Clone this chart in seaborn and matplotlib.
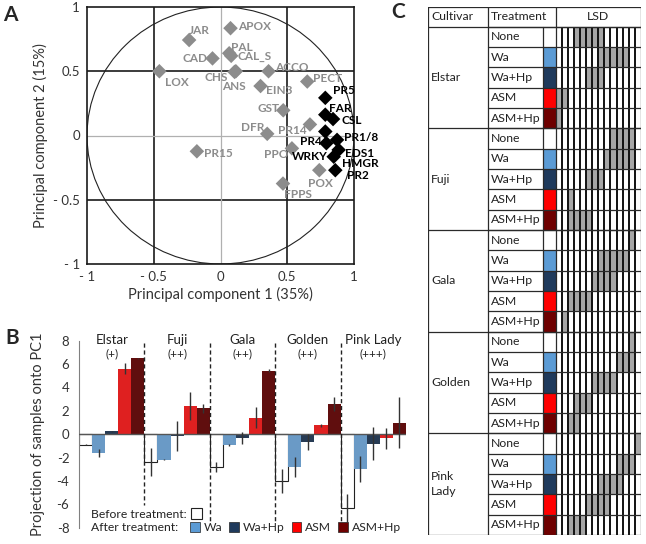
import numpy as np
import pandas as pd
import matplotlib
matplotlib.use('Agg')
import matplotlib.pyplot as plt
from matplotlib.patches import Circle, Patch
from matplotlib.colors import ListedColormap
import seaborn as sns

# ---- A: gene loadings on PC1 / PC2
genes = ['JAR', 'APOX', 'PAL', 'CAL_S', 'CAD', 'LOX', 'CHS', 'ANS', 'ACCO', 'EIN3',
         'PECT', 'GST', 'DFR', 'PR14', 'PR15', 'PPO', 'POX', 'FPPS',
         'PR5', 'FAR', 'CSL', 'HMGR', 'PR1/8', 'PR4', 'EDS1', 'WRKY', 'PR2']
pc1_load = [-0.235, 0.075, 0.065, 0.08, -0.06, -0.458, 0.105, 0.115, 0.36, 0.30,
            0.65, 0.47, 0.35, 0.67, -0.177, 0.535, 0.74, 0.468,
            0.785, 0.785, 0.843, 0.785, 0.873, 0.793, 0.885, 0.848, 0.86]
pc2_load = [0.743, 0.835, 0.64, 0.62, 0.60, 0.50, 0.495, 0.50, 0.50, 0.385,
            0.42, 0.196, 0.013, 0.086, -0.123, -0.10, -0.27, -0.374,
            0.293, 0.162, 0.128, 0.031, -0.034, -0.06, -0.112, -0.165, -0.27]
gene_group = ['other'] * 18 + ['defence'] * 9

# ---- B: projection of samples onto PC1
cultivars = ['Elstar', 'Fuji', 'Gala', 'Golden', 'Pink Lady']
resistance = ['(+)', '(++)', '(++)', '(++)', '(+++)']
treatments = ['None', 'Wa', 'Wa+Hp', 'ASM', 'ASM+Hp']
proj_mean = [[-0.9, -1.6, 0.25, 5.6, 6.5],
             [-2.4, -2.2, -0.15, 2.4, 2.2],
             [-2.8, -0.9, -0.35, 1.4, 5.45],
             [-4.0, -2.8, -0.65, 0.75, 2.55],
             [-6.35, -2.95, -0.8, -0.35, 1.0]]
proj_err = [[0.05, 0.35, 0.05, 0.45, 0.05],
            [1.2, 0.05, 1.25, 1.2, 0.4],
            [0.4, 0.1, 0.5, 0.9, 0.1],
            [1.0, 0.85, 0.7, 0.1, 0.6],
            [1.2, 1.1, 1.45, 0.9, 2.2]]

# ---- C: LSD groups (first and last shaded column per row)
lsd_first = [3, 7, 5, 0, 0,
             9, 8, 5, 2, 2,
             12, 7, 6, 2, 1,
             12, 10, 6, 3, 2,
             13, 10, 7, 5, 2]
lsd_last = [7, 11, 7, 1, 0,
            12, 12, 7, 2, 5,
            12, 11, 9, 5, 1,
            12, 12, 9, 5, 3,
            13, 12, 10, 8, 4]
n_lsd = 14

tcolors = {'None': 'white', 'Wa': '#5b9bd5', 'Wa+Hp': '#1f3a5c',
           'ASM': '#ff0000', 'ASM+Hp': '#6e0000'}

sns.set_style('white')
plt.rcParams['font.family'] = ['Lato', 'DejaVu Sans']
plt.rcParams['axes.unicode_minus'] = False

W, H = 646, 544
fig = plt.figure(figsize=(W / 100, H / 100), dpi=100)


def box(l, t, r, b):
    return [l / W, 1 - b / H, (r - l) / W, (b - t) / H]


# ================= panel A
axA = fig.add_axes(box(87, 7, 354, 264))
genes_df = pd.DataFrame({'gene': genes, 'pc1': pc1_load, 'pc2': pc2_load, 'group': gene_group})
for v in (-0.5, 0.5):
    axA.axvline(v, color='#1a1a1a', lw=1.2, zorder=1)
    axA.axhline(v, color='#1a1a1a', lw=1.2, zorder=1)
axA.axvline(0, color='#b0b0b0', lw=0.9, zorder=1)
axA.axhline(0, color='#b0b0b0', lw=0.9, zorder=1)
axA.add_patch(Circle((0, 0), 1, fill=False, ec='#222222', lw=0.8, zorder=2))
sns.scatterplot(data=genes_df, x='pc1', y='pc2', hue='group',
                palette={'other': '#8c8c8c', 'defence': 'black'},
                marker='D', s=55, linewidth=0, legend=False, ax=axA, zorder=3)

# label offsets in pixels (dx, dy, ha)
lab_off = {'JAR': (10, 10, 'center'), 'APOX': (8, 2, 'left'), 'PAL': (13, 6, 'center'),
           'CAL_S': (6, -1, 'left'), 'CAD': (-5, 0, 'right'), 'LOX': (6, -11, 'left'),
           'CHS': (-7, -6, 'right'), 'ANS': (-2, -15, 'center'), 'ACCO': (7, 4, 'left'),
           'EIN3': (5, -4, 'left'), 'PECT': (6, 3, 'left'), 'GST': (-4, 2, 'right'),
           'DFR': (-3, 6, 'right'), 'PR14': (-3, -6, 'right'), 'PR15': (7, -2, 'left'),
           'PPO': (-4, -6, 'right'), 'POX': (1, -13, 'center'), 'FPPS': (1, -11, 'left'),
           'PR5': (8, 7, 'left'), 'FAR': (4, 6, 'left'), 'CSL': (8, -1, 'left'),
           'HMGR': (17, -32, 'left'), 'PR1/8': (7, 2, 'left'), 'PR4': (-5, 2, 'right'),
           'EDS1': (6, -4, 'left'), 'WRKY': (-6, 0, 'right'), 'PR2': (12, -5, 'left')}
for g, x, y, grp in zip(genes, pc1_load, pc2_load, gene_group):
    dx, dy, ha = lab_off[g]
    axA.annotate(g, (x, y), xytext=(dx * 0.72, dy * 0.72), textcoords='offset points',
                 ha=ha, va='center', fontsize=8.5, fontweight='bold',
                 color='#8c8c8c' if grp == 'other' else 'black', zorder=4)

axA.set_xlim(-1, 1)
axA.set_ylim(-1, 1)
axA.set_xticks([-1, -0.5, 0, 0.5, 1], ['- 1', '- 0.5', '0', '0.5', '1'])
axA.set_yticks([-1, -0.5, 0, 0.5, 1], ['- 1', '- 0.5', '0', '0.5', '1'])
axA.tick_params(length=0, labelsize=9.5, labelcolor='#333333', pad=5)
axA.set_xlabel('Principal component 1 (35%)', fontsize=10.5, color='#333333', labelpad=3)
axA.set_ylabel('Principal component 2 (15%)', fontsize=10.5, color='#333333', labelpad=4)
for s in axA.spines.values():
    s.set_color('#1a1a1a')
    s.set_linewidth(1.2)

# ================= panel B
axB = fig.add_axes(box(79, 340.7, 406, 527.7))
rows = []
for c, means, errs in zip(cultivars, proj_mean, proj_err):
    for t, m, e in zip(treatments, means, errs):
        rows.append({'slot': c + '|' + t, 'treatment': t, 'value': m, 'err': e})
proj_df = pd.DataFrame(rows)
sns.barplot(data=proj_df, x='slot', y='value', hue='treatment', palette=tcolors,
            dodge=False, width=1.0, errorbar=None, legend=False, ax=axB, zorder=2)
for p in axB.patches:
    if p.get_facecolor()[:3] == (1.0, 1.0, 1.0):
        p.set_edgecolor('#222222')
        p.set_linewidth(0.8)
    else:
        p.set_linewidth(0)
axB.errorbar(np.arange(len(proj_df)), proj_df['value'], yerr=proj_df['err'],
             fmt='none', ecolor='#333333', elinewidth=1, capsize=0, zorder=4)
axB.axhline(0, color='#555555', lw=1, zorder=3)

sep_bottom = [-6.1, -7.4, -7.4, -7.4]
for k, yb in enumerate(sep_bottom, start=1):
    axB.plot([5 * k - 0.5] * 2, [7.8, yb], ls=(0, (3, 2)), color='#222222', lw=1, zorder=3)
for i, (c, r) in enumerate(zip(cultivars, resistance)):
    axB.text(5 * i + 2, 8.1, c, ha='center', va='center', fontsize=9.5, color='#222222')
    axB.text(5 * i + 2, 6.9, r, ha='center', va='center', fontsize=8.5, color='#222222')

axB.set_xlim(-0.5, len(proj_df) - 0.5)
axB.set_ylim(-8, 8)
axB.set_yticks(range(-8, 9, 2))
axB.set_xticks([])
axB.set_xlabel('')
axB.set_ylabel('Projection of samples onto PC1', fontsize=10.5, color='#333333', labelpad=8)
axB.tick_params(axis='y', length=3, color='#808080', labelsize=9.5, labelcolor='#333333', pad=4)
for s in ('top', 'right', 'bottom'):
    axB.spines[s].set_visible(False)
axB.spines['left'].set_color('#808080')

axB.text(0.036, 0.072, 'Before treatment:', transform=axB.transAxes, ha='left', va='center',
         fontsize=8.7, color='#222222')
axB.text(0.036, 0.0, 'After treatment:', transform=axB.transAxes, ha='left', va='center',
         fontsize=8.7, color='#222222')
leg1 = axB.legend(handles=[Patch(fc='white', ec='#222222', lw=0.8, label='')],
                  loc='center', bbox_to_anchor=(0.358, 0.072), frameon=False,
                  handlelength=0.8, handleheight=0.8, borderpad=0, handletextpad=0)
axB.add_artist(leg1)
axB.legend(handles=[Patch(fc=tcolors[t], ec='#222222', lw=0.5, label=t) for t in treatments[1:]],
           loc='center left', bbox_to_anchor=(0.34, 0.0), ncol=4, frameon=False,
           handlelength=0.8, handleheight=0.8, handletextpad=0.3, columnspacing=0.6,
           fontsize=8.7, borderpad=0, borderaxespad=0)

# ================= panel C
tab_l, tab_t, tab_r, tab_b = 428.3, 7.3, 640.7, 535
row_top = 26.7
x_treat, x_sw, x_lsd = 488.3, 543.3, 556
n_rows = len(cultivars) * len(treatments)
head = (row_top - tab_t) / ((tab_b - row_top) / n_rows)
lc, lw = '#2a2a2a', 0.9

codes = np.array([[j] for i in range(len(cultivars)) for j in range(len(treatments))])
axS = fig.add_axes(box(x_sw, row_top, x_lsd, tab_b))
sns.heatmap(codes, cmap=ListedColormap([tcolors[t] for t in treatments]), vmin=-0.5, vmax=4.5,
            cbar=False, linewidths=0, xticklabels=False, yticklabels=False, ax=axS)

lsd = np.zeros((n_rows, n_lsd))
for r, (a, b) in enumerate(zip(lsd_first, lsd_last)):
    lsd[r, a:b + 1] = 1
axL = fig.add_axes(box(x_lsd, row_top, tab_r, tab_b))
sns.heatmap(lsd, cmap=ListedColormap(['white', '#a6a6a6']), vmin=0, vmax=1,
            cbar=False, linewidths=0, xticklabels=False, yticklabels=False, ax=axL)
for k in range(1, n_lsd):
    axL.axvline(k, color='#111111', lw=1.4, zorder=3)

axC = fig.add_axes(box(tab_l, tab_t, tab_r, tab_b))
axC.set_xlim(0, tab_r - tab_l)
axC.set_ylim(n_rows, -head)
axC.axis('off')
axC.patch.set_alpha(0)
xr = tab_r - tab_l
for y in [-head] + list(range(0, n_rows + 1, len(treatments))):
    axC.plot([0, xr], [y, y], color=lc, lw=lw)
for y in range(n_rows):
    axC.plot([x_treat - tab_l, xr], [y, y], color=lc, lw=lw)
for x in (0, x_treat - tab_l, x_lsd - tab_l, xr):
    axC.plot([x, x], [-head, n_rows], color=lc, lw=lw)
axC.plot([x_sw - tab_l] * 2, [0, n_rows], color=lc, lw=lw)

fs_c = 8.8
axC.text(3, -head / 2, 'Cultivar', ha='left', va='center', fontsize=fs_c, color='#222222')
axC.text(x_treat - tab_l + 3, -head / 2, 'Treatment', ha='left', va='center', fontsize=fs_c, color='#222222')
axC.text((x_lsd + tab_r) / 2 - tab_l, -head / 2, 'LSD', ha='center', va='center', fontsize=fs_c, color='#222222')
cult_names = ['Elstar', 'Fuji', 'Gala', 'Golden', 'Pink\nLady']
for i, c in enumerate(cult_names):
    axC.text(3, 5 * i + 2.5, c, ha='left', va='center', fontsize=fs_c, color='#222222', linespacing=1.4)
    for j, t in enumerate(treatments):
        axC.text(x_treat - tab_l + 3, 5 * i + j + 0.5, t, ha='left', va='center',
                 fontsize=fs_c, color='#222222')

# panel letters
fig.text(10 / W, 1 - 15 / H, 'A', fontsize=15, fontweight='bold', ha='center', va='center')
fig.text(12 / W, 1 - 338 / H, 'B', fontsize=15, fontweight='bold', ha='center', va='center')
fig.text(398 / W, 1 - 12 / H, 'C', fontsize=15, fontweight='bold', ha='center', va='center')

fig.savefig('out.png', dpi=100)
